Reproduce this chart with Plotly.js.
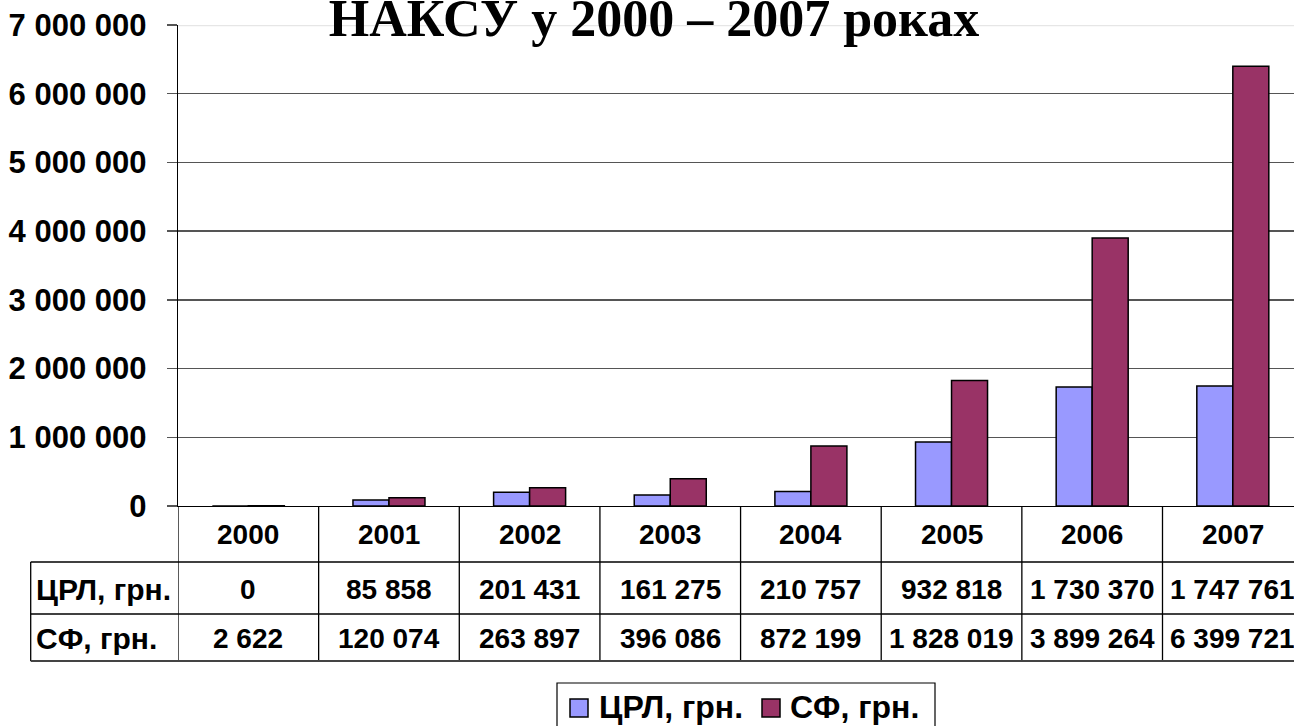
<!DOCTYPE html>
<html>
<head>
<meta charset="utf-8">
<script src="https://cdn.plot.ly/plotly-3.0.1.min.js"></script>
<style>html,body{margin:0;padding:0;background:#fff;}#chart{width:1294px;height:726px;}</style>
</head>
<body>
<div id="chart"></div>
<script>
var chartTitle = "НАКСУ у 2000 – 2007 роках";
var years = ["2000", "2001", "2002", "2003", "2004", "2005", "2006", "2007"];
var seriesNames = ["ЦРЛ, грн.", "СФ, грн."];
var seriesColors = ["#9999FF", "#993366"];
var crl = [0, 85858, 201431, 161275, 210757, 932818, 1730370, 1747761];
var sf = [2622, 120074, 263897, 396086, 872199, 1828019, 3899264, 6399721];
var yTicks = [0, 1000000, 2000000, 3000000, 4000000, 5000000, 6000000, 7000000];

function fmt(n) { return String(n).replace(/\B(?=(\d{3})+(?!\d))/g, ' '); }

var FONT = "Liberation Sans, Arial, sans-serif";
var tableFont = {family: FONT, size: 28, color: '#000', weight: 'bold'};
var headFont = {family: FONT, size: 30, color: '#000', weight: 'bold'};
var legFont = {family: FONT, size: 32, color: '#000', weight: 'bold'};

// geometry helpers (plot area: x 178..1294 px, y 25..506 px)
var PL = 178, PW = 1116, PB = 506, PH = 481;
function px(x) { return (x - PL) / PW; }
function py(y) { return (PB - y) / PH; }

var rowLine1 = py(562), rowLine2 = py(614), rowLine3 = py(661);
var rowCat = py(534), rowA = py(589), rowB = py(638);
var leftEdge = px(30.7);

var traces = [
  {type: 'bar', name: seriesNames[0], x: years.map(function(_, i){return i;}), y: crl,
   marker: {color: seriesColors[0], line: {color: '#000', width: 1.5}}, hoverinfo: 'none', showlegend: false},
  {type: 'bar', name: seriesNames[1], x: years.map(function(_, i){return i;}), y: sf,
   marker: {color: seriesColors[1], line: {color: '#000', width: 1.5}}, hoverinfo: 'none', showlegend: false}
];

var shapes = [];
var annotations = [];
// light top gridline
shapes.push({type: 'line', xref: 'paper', yref: 'y', x0: 0, x1: 1, y0: 7000000, y1: 7000000,
  line: {color: '#e6e6e6', width: 2.5}, layer: 'above'});
// vertical table lines
for (var i = 0; i < years.length; i++) {
  shapes.push({type: 'line', xref: 'x', yref: 'paper', x0: i - 0.5, x1: i - 0.5, y0: 0, y1: rowLine3,
    line: {color: '#000', width: 1.3}});
}
shapes.push({type: 'line', xref: 'paper', yref: 'paper', x0: leftEdge, x1: leftEdge, y0: rowLine1, y1: rowLine3,
  line: {color: '#000', width: 1.3}});
[rowLine1, rowLine2, rowLine3].forEach(function(r, k) {
  shapes.push({type: 'line', xref: 'paper', yref: 'paper', x0: leftEdge, x1: 1.02, y0: r, y1: r,
    line: {color: k === 2 ? '#444' : '#000', width: k === 2 ? 1.8 : 1.3}});
});

years.forEach(function(yr, i) {
  annotations.push({xref: 'x', yref: 'paper', x: i, y: rowCat, text: yr, showarrow: false,
    xanchor: 'center', yanchor: 'middle', font: tableFont});
  annotations.push({xref: 'x', yref: 'paper', x: i, y: rowA, text: fmt(crl[i]), showarrow: false,
    xanchor: 'center', yanchor: 'middle', font: tableFont});
  annotations.push({xref: 'x', yref: 'paper', x: i, y: rowB, text: fmt(sf[i]), showarrow: false,
    xanchor: 'center', yanchor: 'middle', font: tableFont});
});
annotations.push({xref: 'paper', yref: 'paper', x: px(34), y: rowA, text: seriesNames[0], showarrow: false,
  xanchor: 'left', yanchor: 'middle', font: headFont});
annotations.push({xref: 'paper', yref: 'paper', x: px(34), y: rowB, text: seriesNames[1], showarrow: false,
  xanchor: 'left', yanchor: 'middle', font: headFont});

// legend (box, swatches, labels)
shapes.push({type: 'rect', xref: 'paper', yref: 'paper', x0: px(557), x1: px(935), y0: py(683), y1: py(745),
  line: {color: '#000', width: 1.2}, fillcolor: '#fff'});
var swX = [570, 762], txX = [597, 788];
for (var s = 0; s < 2; s++) {
  shapes.push({type: 'rect', xref: 'paper', yref: 'paper', x0: px(swX[s]), x1: px(swX[s] + 18), y0: py(699), y1: py(717),
    line: {color: '#000', width: 1.5}, fillcolor: seriesColors[s]});
  annotations.push({xref: 'paper', yref: 'paper', x: px(txX[s]), y: py(707), text: seriesNames[s], showarrow: false,
    xanchor: 'left', yanchor: 'middle', font: legFont});
}

var layout = {
  width: 1294, height: 726,
  margin: {l: PL, r: 0, t: 25, b: 220},
  paper_bgcolor: '#fff', plot_bgcolor: '#fff',
  title: {text: chartTitle, x: 0.5054, xanchor: 'center', xref: 'container', y: 0.975, yanchor: 'middle', yref: 'container',
    font: {family: 'Liberation Serif, Times New Roman, serif', size: 52, color: '#000', weight: 'bold'}},
  barmode: 'group', bargap: 0.488, bargroupgap: 0,
  showlegend: false,
  xaxis: {range: [-0.5, 7.435], showticklabels: false, ticks: '', showgrid: false, zeroline: false,
    showline: true, linecolor: '#000', linewidth: 1.3, fixedrange: true},
  yaxis: {range: [0, 7000000], tickvals: yTicks, ticktext: yTicks.map(fmt), ticks: 'outside', ticklen: 10,
    tickcolor: '#555', tickwidth: 1.3, ticklabelstandoff: 14,
    showgrid: true, gridcolor: '#555', gridwidth: 1.3, zeroline: false,
    showline: true, linecolor: '#000', linewidth: 1.3,
    tickfont: {family: FONT, size: 31, color: '#000', weight: 'bold'}, fixedrange: true},
  shapes: shapes,
  annotations: annotations
};

Plotly.newPlot('chart', traces, layout, {displayModeBar: false, staticPlot: true});
</script>
</body>
</html>
